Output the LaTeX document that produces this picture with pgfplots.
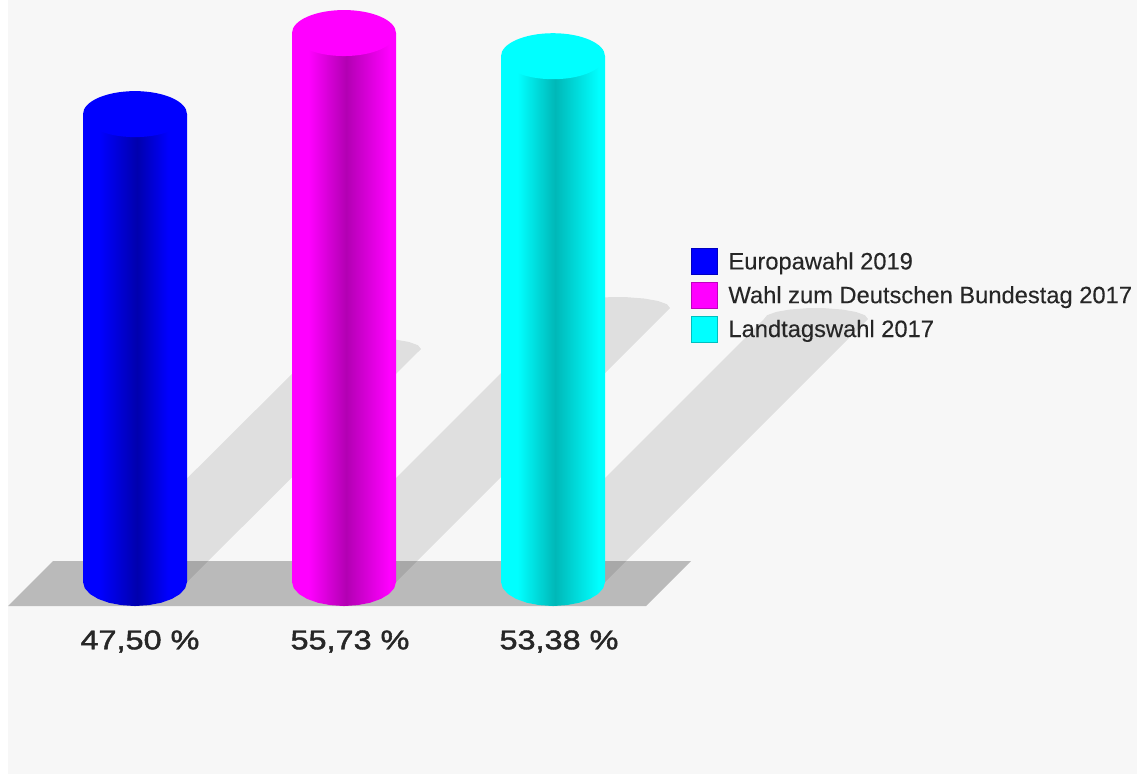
\documentclass[border=0pt]{standalone}
\usepackage{fontspec}
\usepackage{pgfplots}
\pgfplotsset{compat=1.18}
\setmainfont{Liberation Sans}
\newfontfamily\labelfont[FakeBold=1.5]{Liberation Sans}
\newfontfamily\legendfont[FakeBold=0.15]{Liberation Sans}

\definecolor{pagebg}{HTML}{F7F7F7}
\definecolor{floorgray}{HTML}{BABABA}
\definecolor{txt}{HTML}{262626}

% bbox of a shaded path sits on 25bp..75bp of the shading
\pgfdeclarehorizontalshading{cylblue}{100bp}{color(0bp)=(blue!100!black); color(33bp)=(blue!100!black); color(51bp)=(blue!68!black); color(66bp)=(blue!100!black); color(100bp)=(blue!100!black)}
\definecolor{mag}{RGB}{255,0,255}
\definecolor{cya}{RGB}{0,255,255}
\pgfdeclarehorizontalshading{cylmag}{100bp}{color(0bp)=(mag); color(33bp)=(mag); color(51bp)=(mag!70!black); color(72bp)=(mag); color(100bp)=(mag)}
\pgfdeclarehorizontalshading{cylcya}{100bp}{color(0bp)=(cya); color(33bp)=(cya); color(51bp)=(cya!72!black); color(72bp)=(cya); color(100bp)=(cya)}

\pgfdeclareplotmark{cap}{%
  \pgfpathellipse{\pgfpointorigin}{\pgfqpoint{52pt}{0pt}}{\pgfqpoint{0pt}{23pt}}%
  \pgfusepathqfill}

\pgfplotsset{
  whole/.style={
    width=1137pt, height=774pt, scale only axis, hide axis,
    at={(0,0)}, anchor=south west,
    xmin=0, xmax=1137,
  },
  cyl/.style={ybar, bar width=104pt, bar shift=0pt, shade, shading=#1, draw=none, forget plot},
  swatch/.style={legend image code/.code={
    \draw[fill=#1, draw=#1!75!black, line width=0.8pt] (0pt,-13pt) rectangle (26pt,13pt);}},
}

\begin{document}
\begin{tikzpicture}
% backdrop, floor and cast shadows, in image pixels
\begin{axis}[whole, ymin=0, ymax=774, y dir=reverse]
\addplot[fill=white, draw=none] coordinates {(0,0)(1137,0)(1137,774)(0,774)} -- cycle;
\addplot[fill=pagebg, draw=none] coordinates {(8,0)(1137,0)(1137,774)(8,774)} -- cycle;
\addplot[fill=floorgray, draw=none] coordinates {(8,606)(53,561)(691,561)(646,606)} -- cycle;
\addplot[fill=black, fill opacity=0.095, draw=none] coordinates {
  (421,349)(417.9,345.2)(408.8,341.9)(395,339.5)(378,338.2)(360,338.2)(343,339.5)(329.2,341.9)(320.1,345.2)(317,349)
  (83,582)(187,582)} -- cycle;
\addplot[fill=black, fill opacity=0.095, draw=none] coordinates {
  (670,308)(666.9,304.2)(657.8,300.9)(644,298.5)(627,297.2)(609,297.2)(592,298.5)(578.2,300.9)(569.1,304.2)(566,308)
  (292,582)(396,582)} -- cycle;
\addplot[fill=black, fill opacity=0.095, draw=none] coordinates {
  (868,319)(864.9,315.2)(855.8,311.9)(842,309.5)(825,308.2)(807,308.2)(790,309.5)(776.2,311.9)(767.1,315.2)(764,319)
  (501,582)(605,582)} -- cycle;
\end{axis}

% cylinders: y is the percentage, 9.85 px per percent, 0 at pixel row 582
\begin{axis}[whole, ymin=-19.4924, ymax=59.0863,
  legend cell align=left,
  legend style={at={(0.6077,0.6796)}, anchor=north west, draw=none, fill=none,
    font=\legendfont\fontsize{23.7}{28}\selectfont\color{txt}, row sep=7pt, column sep=10.5pt, inner sep=0pt,
    nodes={inner sep=0pt, outer sep=0pt}},
]
% bodies
\addplot[cyl=cylblue] coordinates {(135,47.50)};
\addplot[cyl=cylmag] coordinates {(344,55.73)};
\addplot[cyl=cylcya] coordinates {(553,53.38)};
% rounded bottoms
\addplot[shade, shading=cylblue, draw=none, forget plot] coordinates {(83,0)(84.8,-0.63)(90,-1.22)(98.2,-1.72)(109,-2.11)(121.5,-2.35)(135,-2.44)(148.5,-2.35)(161,-2.11)(171.8,-1.72)(180,-1.22)(185.2,-0.63)(187,0)} -- cycle;
\addplot[shade, shading=cylmag, draw=none, forget plot] coordinates {(292,0)(293.8,-0.63)(299,-1.22)(307.2,-1.72)(318,-2.11)(330.5,-2.35)(344,-2.44)(357.5,-2.35)(370,-2.11)(380.8,-1.72)(389,-1.22)(394.2,-0.63)(396,0)} -- cycle;
\addplot[shade, shading=cylcya, draw=none, forget plot] coordinates {(501,0)(502.8,-0.63)(508,-1.22)(516.2,-1.72)(527,-2.11)(539.5,-2.35)(553,-2.44)(566.5,-2.35)(579,-2.11)(589.8,-1.72)(598,-1.22)(603.2,-0.63)(605,0)} -- cycle;
% top caps
\addplot[only marks, mark=cap, mark options={fill=blue, draw=none}, forget plot] coordinates {(135,47.50)};
\addplot[only marks, mark=cap, mark options={fill=mag, draw=none}, forget plot] coordinates {(344,55.73)};
\addplot[only marks, mark=cap, mark options={fill=cya, draw=none}, forget plot] coordinates {(553,53.38)};

\addlegendimage{swatch=blue}
\addlegendentry{Europawahl 2019}
\addlegendimage{swatch=mag}
\addlegendentry{Wahl zum Deutschen Bundestag 2017}
\addlegendimage{swatch=cya}
\addlegendentry{Landtagswahl 2017}

\node[font=\labelfont\fontsize{27}{30}\selectfont, text=txt] at (axis cs:140,-6.05) {\scalebox{1.2}[1]{47,50 \%}};
\node[font=\labelfont\fontsize{27}{30}\selectfont, text=txt] at (axis cs:350,-6.05) {\scalebox{1.2}[1]{55,73 \%}};
\node[font=\labelfont\fontsize{27}{30}\selectfont, text=txt] at (axis cs:559,-6.05) {\scalebox{1.2}[1]{53,38 \%}};
\end{axis}
\end{tikzpicture}
\end{document}
